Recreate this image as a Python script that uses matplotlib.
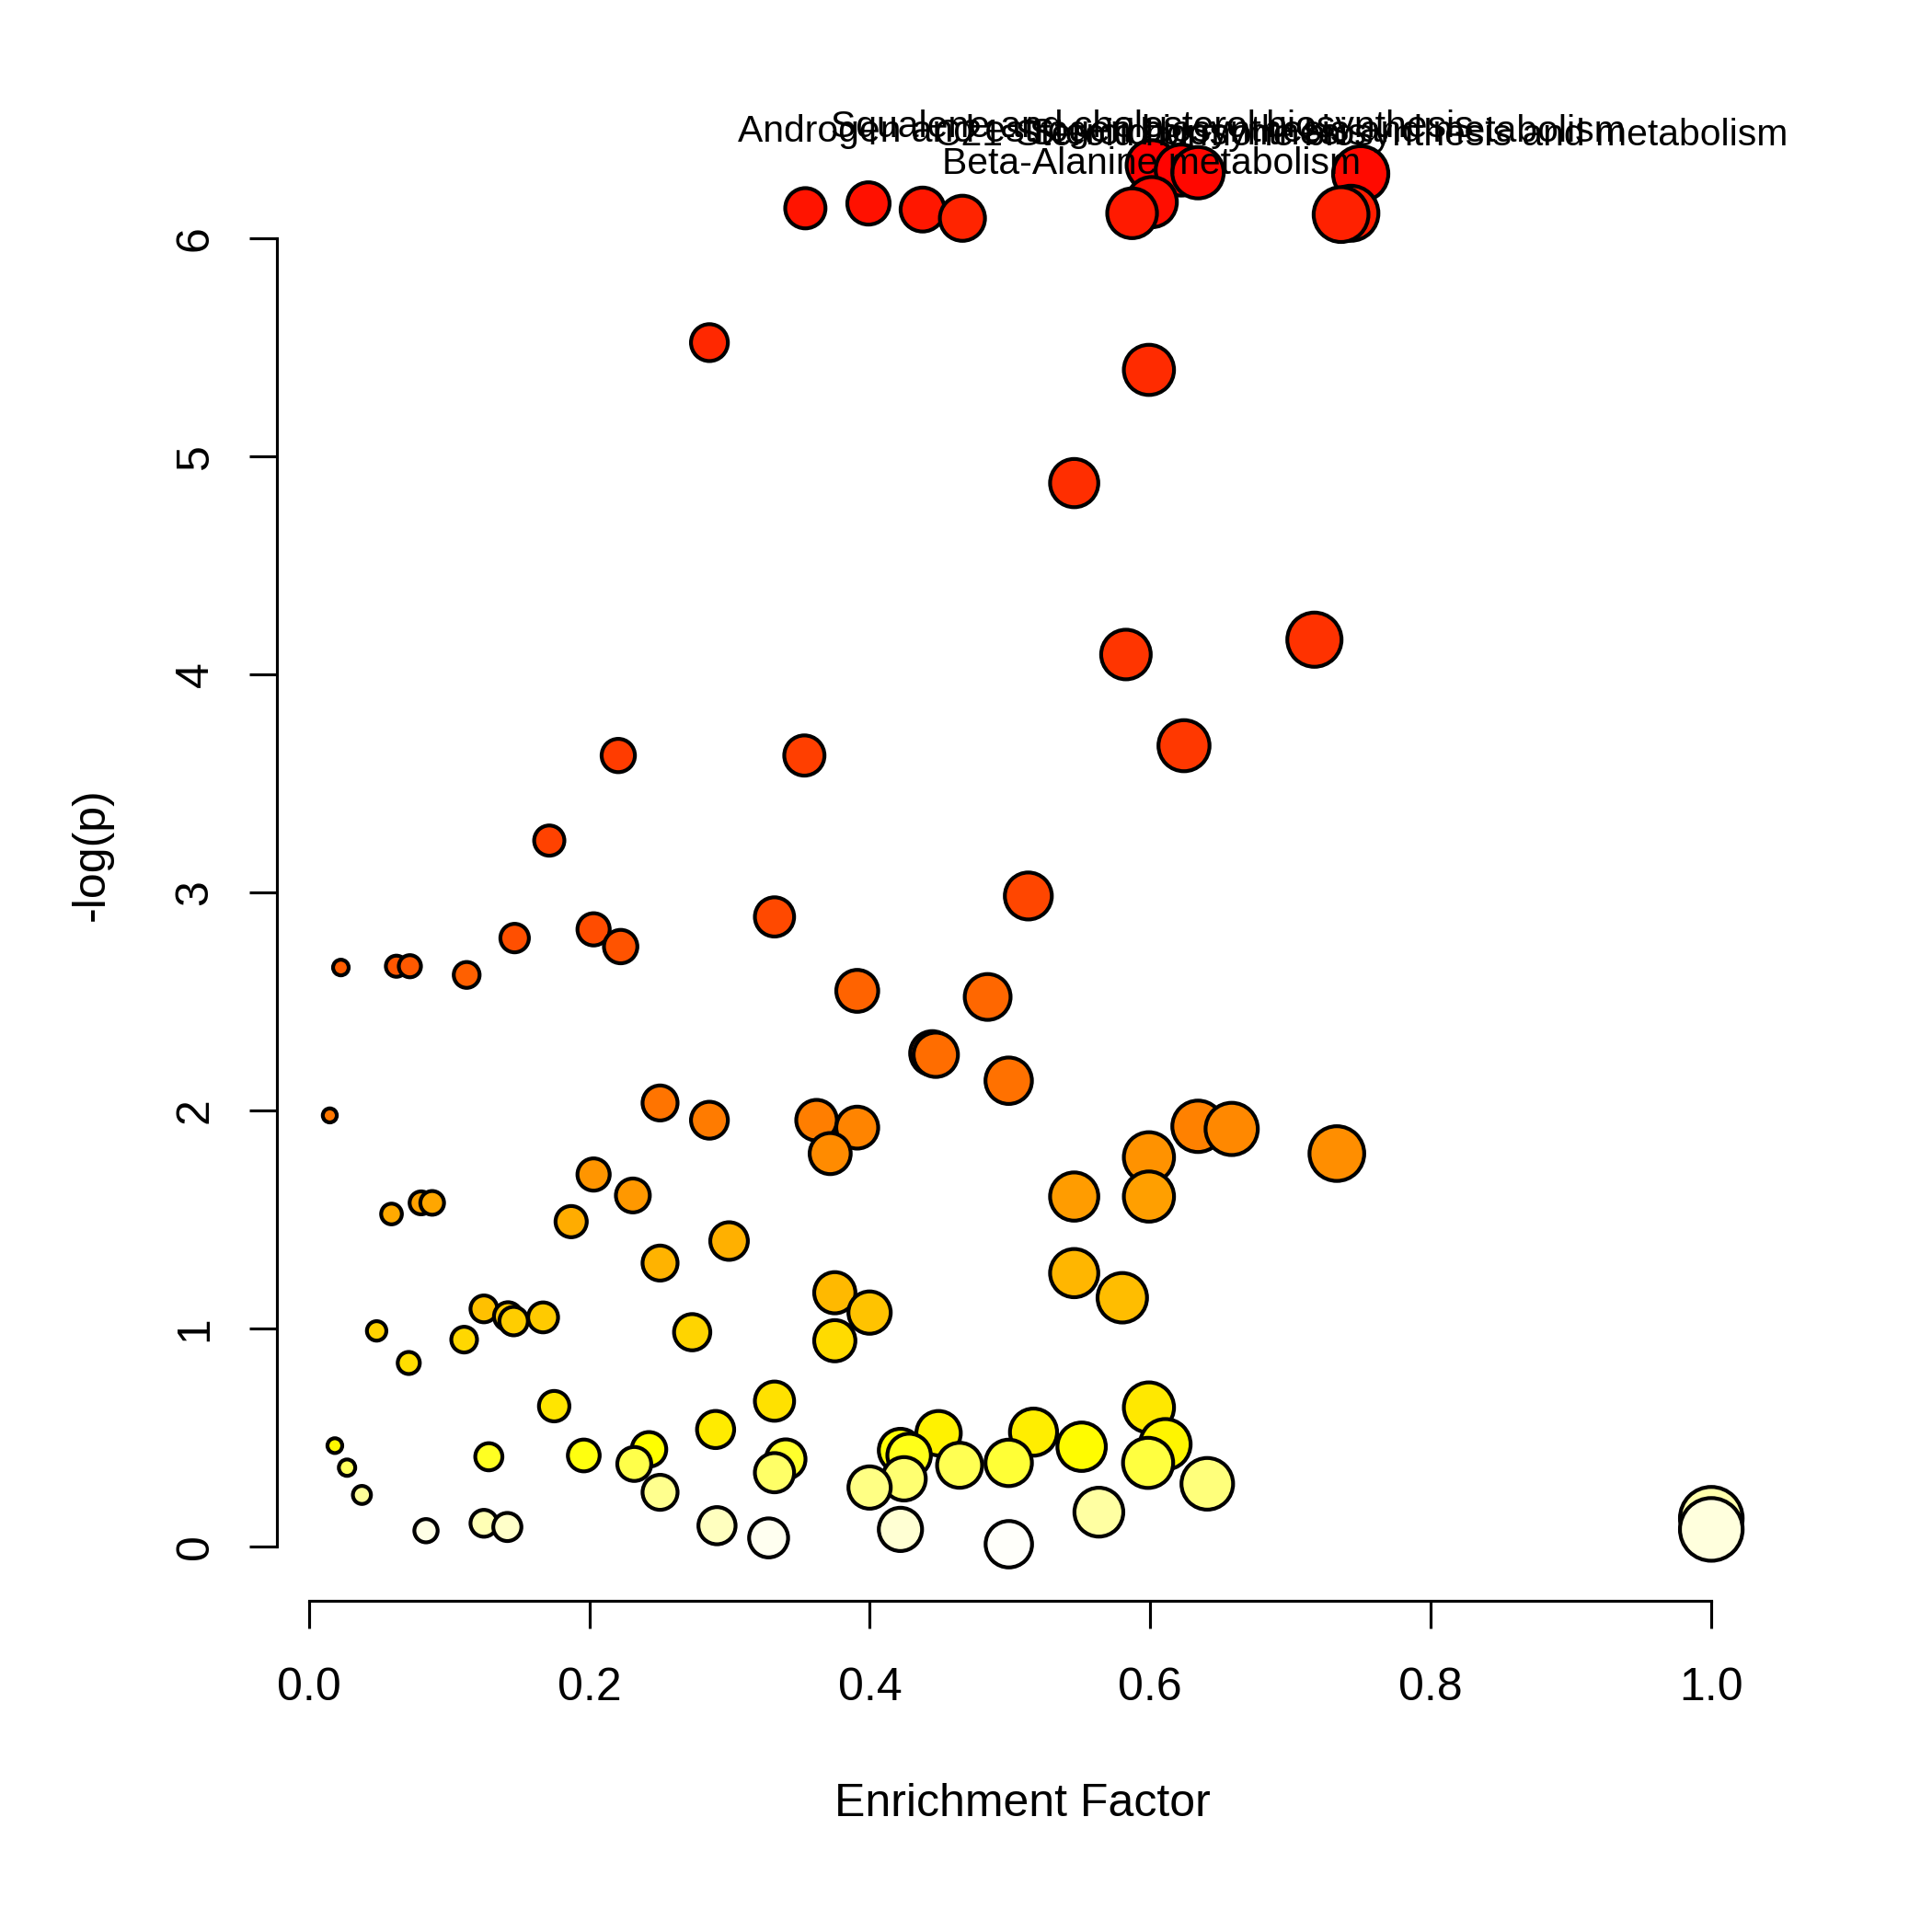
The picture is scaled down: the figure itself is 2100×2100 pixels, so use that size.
import colorsys
import numpy as np
import matplotlib
matplotlib.use("Agg")
import matplotlib.pyplot as plt

plt.rcParams['font.family'] = ['Liberation Sans', 'DejaVu Sans']

# enrichment factor (x) and -log(p) (y)
enrich = [0.354, 0.399, 0.4376, 0.466, 0.601, 0.622, 0.634, 0.601, 0.587, 0.750, 0.743, 0.736,
          0.2856, 0.599, 0.5457, 0.717, 0.5826, 0.624, 0.2206, 0.3533, 0.1714, 0.513,
          0.332, 0.203, 0.1467, 0.2223, 0.0228, 0.0624, 0.072, 0.1125, 0.391, 0.484,
          0.4445, 0.447, 0.499, 0.0149, 0.2504, 0.2856, 0.362, 0.391, 0.3717, 0.634,
          0.658, 0.599, 0.733, 0.203, 0.231, 0.5457, 0.599, 0.0589, 0.080, 0.0879,
          0.187, 0.2996, 0.2504, 0.5457, 0.58, 0.375, 0.3998, 0.1248, 0.142, 0.146,
          0.167, 0.0483, 0.1107, 0.0712, 0.2733, 0.375, 0.1749, 0.332, 0.599, 0.29,
          0.449, 0.5167, 0.6107, 0.551, 0.0185, 0.0272, 0.0378, 0.1283, 0.196, 0.2425,
          0.232, 0.34, 0.332, 0.4218, 0.428, 0.4244, 0.3998, 0.464, 0.499, 0.5984,
          0.6406, 0.2504, 0.5633, 0.0835, 0.1248, 0.1415, 0.291, 0.3278, 0.4218, 0.4991,
          1.0, 1.0]
logp = [6.136, 6.158, 6.130, 6.09, 6.333, 6.311, 6.299, 6.164, 6.113, 6.294, 6.113, 6.107,
        5.52, 5.395, 4.876, 4.158, 4.09, 3.672, 3.627, 3.627, 3.237, 2.983,
        2.887, 2.83, 2.79, 2.751, 2.655, 2.661, 2.661, 2.621, 2.548, 2.52,
        2.262, 2.255, 2.136, 1.977, 2.034, 1.955, 1.955, 1.921, 1.802, 1.927,
        1.915, 1.785, 1.802, 1.706, 1.61, 1.605, 1.605, 1.525, 1.576, 1.576,
        1.49, 1.401, 1.30, 1.254, 1.141, 1.164, 1.073, 1.09, 1.056, 1.034,
        1.051, 0.989, 0.949, 0.842, 0.983, 0.944, 0.644, 0.667, 0.638, 0.537,
        0.52, 0.525, 0.469, 0.458, 0.463, 0.362, 0.237, 0.412, 0.418, 0.446,
        0.379, 0.401, 0.339, 0.441, 0.418, 0.311, 0.271, 0.373, 0.384, 0.384,
        0.288, 0.249, 0.158, 0.073, 0.107, 0.090, 0.096, 0.040, 0.079, 0.011,
        0.13, 0.079]

# names of the five top pathways, highest -log(p) first
top_names = ["Squalene and cholesterol biosynthesis",
             "Androgen and estrogen biosynthesis and metabolism",
             "Steroid biosynthesis",
             "C21-Steroid hormone biosynthesis and metabolism",
             "Beta-Alanine metabolism"]


def heat_colors(n):
    # same as R heat.colors()
    j = n // 4
    i = n - j
    cols = [colorsys.hsv_to_rgb(h, 1, 1) for h in np.linspace(0, 1 / 6, i)]
    if j > 0:
        for s in np.linspace(1 - 1 / (2 * j), 1 / (2 * j), j):
            cols.append(colorsys.hsv_to_rgb(1 / 6, s, 1))
    return cols


x = np.array(enrich)
y = np.array(logp)
order = np.argsort(-y, kind="stable")
x = x[order]
y = y[order]
cols = heat_colors(len(y))

# circle radius grows with sqrt of the enrichment factor
lw = 1.0
r_pt = (4.5 + 22.5 * np.sqrt(x)) * 0.3214
sizes = (2 * r_pt - lw) ** 2

fig = plt.figure(figsize=(7, 7), dpi=300)
ax = fig.add_axes([0.1433, 0.1714, 0.9148 - 0.1433, 0.9446 - 0.1714])

ax.scatter(x, y, s=sizes, c=cols, edgecolors="black", linewidths=lw,
           clip_on=False, zorder=3)

for k in range(len(top_names)):
    ax.annotate(top_names[k], (x[k], y[k]), xytext=(0, 7.3), textcoords="offset points",
                ha="center", va="baseline", fontsize=9.8, annotation_clip=False, zorder=4)

ax.set_xlim(-0.02285, 1.04)
ax.set_ylim(-0.2486, 6.6)

for s in ["top", "right"]:
    ax.spines[s].set_visible(False)
ax.spines["left"].set_bounds(0, 6)
ax.spines["bottom"].set_bounds(0, 1)
ax.spines["left"].set_linewidth(0.75)
ax.spines["bottom"].set_linewidth(0.75)

ax.set_xticks([0.0, 0.2, 0.4, 0.6, 0.8, 1.0])
ax.set_xticklabels(["0.0", "0.2", "0.4", "0.6", "0.8", "1.0"])
ax.set_yticks([0, 1, 2, 3, 4, 5, 6])
ax.tick_params(axis="x", length=7.2, width=0.75, pad=10, labelsize=12)
ax.tick_params(axis="y", length=7.2, width=0.75, pad=8.5, labelsize=12, labelrotation=90)
for t in ax.get_yticklabels():
    t.set_va("center")

ax.set_xlabel("Enrichment Factor", fontsize=12, labelpad=19.3)
ax.set_ylabel("-log(p)", fontsize=12, labelpad=16)

fig.savefig("out.png", dpi=300)
